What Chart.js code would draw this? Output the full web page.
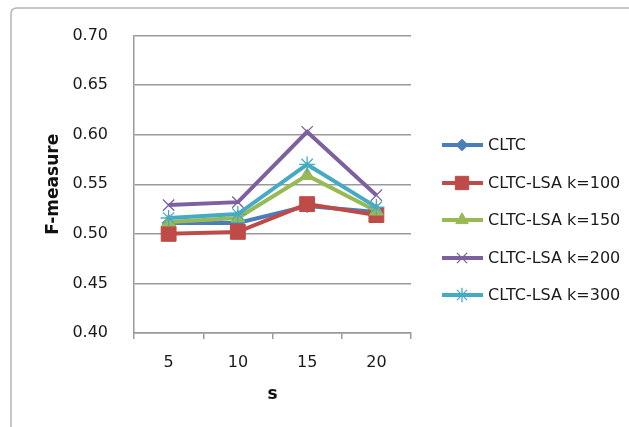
<!DOCTYPE html>
<html>
<head>
<meta charset="utf-8">
<script src="https://cdn.jsdelivr.net/npm/chart.js@4.4.1/dist/chart.umd.min.js"></script>
<style>
  html, body { margin: 0; padding: 0; background: #fff; }
  #wrap { width: 629px; height: 427px; position: relative; }
</style>
</head>
<body>
<div id="wrap"><canvas id="fChart" width="629" height="427"></canvas></div>
<script>
// x categories (s)
const sValues = ["5", "10", "15", "20"];

// F-measure per series
const cltc = [0.511, 0.511, 0.528, 0.522];
const lsa100 = [0.500, 0.502, 0.530, 0.519];
const lsa150 = [0.512, 0.516, 0.559, 0.523];
const lsa200 = [0.529, 0.532, 0.603, 0.539];
const lsa300 = [0.516, 0.520, 0.570, 0.527];

const seriesNames = ["CLTC", "CLTC-LSA k=100", "CLTC-LSA k=150", "CLTC-LSA k=200", "CLTC-LSA k=300"];
const yTicks = [0.40, 0.45, 0.50, 0.55, 0.60, 0.65, 0.70];

const styles = [
    { color: "#4A7EBB", point: "rectRot", radius: 6.5, pw: 1 },
    { color: "#BE4B48", point: "rect", radius: 10.5, pw: 1 },
    { color: "#98B954", point: "triangle", radius: 8, pw: 1 },
    { color: "#7D60A0", point: "crossRot", radius: 8, pw: 1.3 },
    { color: "#46AAC5", point: "star", radius: 8, pw: 1.3 }
];

const allData = [cltc, lsa100, lsa150, lsa200, lsa300];

const datasets = allData.map((vals, i) => ({
    label: seriesNames[i],
    data: vals,
    borderColor: styles[i].color,
    backgroundColor: styles[i].color,
    borderWidth: 4,
    pointStyle: styles[i].point,
    pointRadius: styles[i].radius,
    pointBorderWidth: styles[i].pw,
    pointBorderColor: styles[i].color,
    pointBackgroundColor: styles[i].color,
    tension: 0,
    order: 5 - i   // later series drawn on top
}));

// outer frame: top + left edge with a rounded corner
const framePlugin = {
    id: "frame",
    beforeDraw(chart) {
        const ctx = chart.ctx;
        ctx.save();
        ctx.strokeStyle = "#b4b4b4";
        ctx.lineWidth = 1.5;
        ctx.beginPath();
        ctx.moveTo(11, 427);
        ctx.lineTo(11, 14);
        ctx.quadraticCurveTo(11, 8, 17, 8);
        ctx.lineTo(629, 8);
        ctx.stroke();
        ctx.restore();
    }
};

// legend on the right: line + marker + label
const legendPlugin = {
    id: "lineLegend",
    afterDraw(chart) {
        const ctx = chart.ctx;
        const ys = [145, 183, 220, 258, 295];
        ctx.save();
        chart.data.datasets.forEach((ds, i) => {
            const y = ys[i];
            ctx.strokeStyle = ds.borderColor;
            ctx.fillStyle = ds.backgroundColor;
            ctx.lineWidth = 4;
            ctx.beginPath();
            ctx.moveTo(442, y);
            ctx.lineTo(483, y);
            ctx.stroke();
            ctx.lineWidth = ds.pointBorderWidth;
            Chart.helpers.drawPoint(ctx, {
                pointStyle: ds.pointStyle,
                radius: ds.pointRadius * 0.9,
                borderWidth: ds.pointBorderWidth
            }, 462, y);
            ctx.fillStyle = "#1a1a1a";
            ctx.font = "16px 'DejaVu Sans'";
            ctx.textBaseline = "middle";
            ctx.textAlign = "left";
            ctx.fillText(ds.label, 488, y + 1);
        });
        ctx.restore();
    }
};

new Chart(document.getElementById("fChart"), {
    type: "line",
    data: { labels: sValues, datasets: datasets },
    options: {
        responsive: false,
        animation: false,
        layout: { padding: { left: 0, top: 30, right: 218, bottom: 0 } },
        plugins: {
            legend: { display: false },
            tooltip: { enabled: false }
        },
        scales: {
            x: {
                offset: true,
                afterFit: s => { s.height = 94; },
                grid: {
                    offset: true,
                    drawOnChartArea: false,
                    drawTicks: true,
                    tickLength: 6,
                    color: "#9a9a9a",
                    lineWidth: 1.5
                },
                border: { color: "#9a9a9a", width: 1.5 },
                ticks: {
                    color: "#1a1a1a",
                    font: { family: "DejaVu Sans", size: 16 },
                    padding: 14,
                    maxRotation: 0
                },
                title: {
                    display: true,
                    text: "s",
                    color: "#111",
                    font: { family: "DejaVu Sans", size: 17, weight: "bold" },
                    padding: { top: 0, bottom: 22 }
                }
            },
            y: {
                min: 0.40,
                max: 0.70,
                afterFit: s => { s.width = 134; },
                afterBuildTicks: s => { s.ticks = yTicks.map(v => ({ value: v })); },
                grid: {
                    drawTicks: false,
                    color: "#9a9a9a",
                    lineWidth: 1.5
                },
                border: { color: "#9a9a9a", width: 1.5 },
                ticks: {
                    color: "#1a1a1a",
                    font: { family: "DejaVu Sans", size: 16 },
                    padding: 26,
                    callback: v => Number(v).toFixed(2)
                },
                title: {
                    display: true,
                    text: "F-measure",
                    color: "#111",
                    font: { family: "DejaVu Sans", size: 17, weight: "bold" },
                    padding: { top: 43, bottom: 0 }
                }
            }
        }
    },
    plugins: [framePlugin, legendPlugin]
});
</script>
</body>
</html>
